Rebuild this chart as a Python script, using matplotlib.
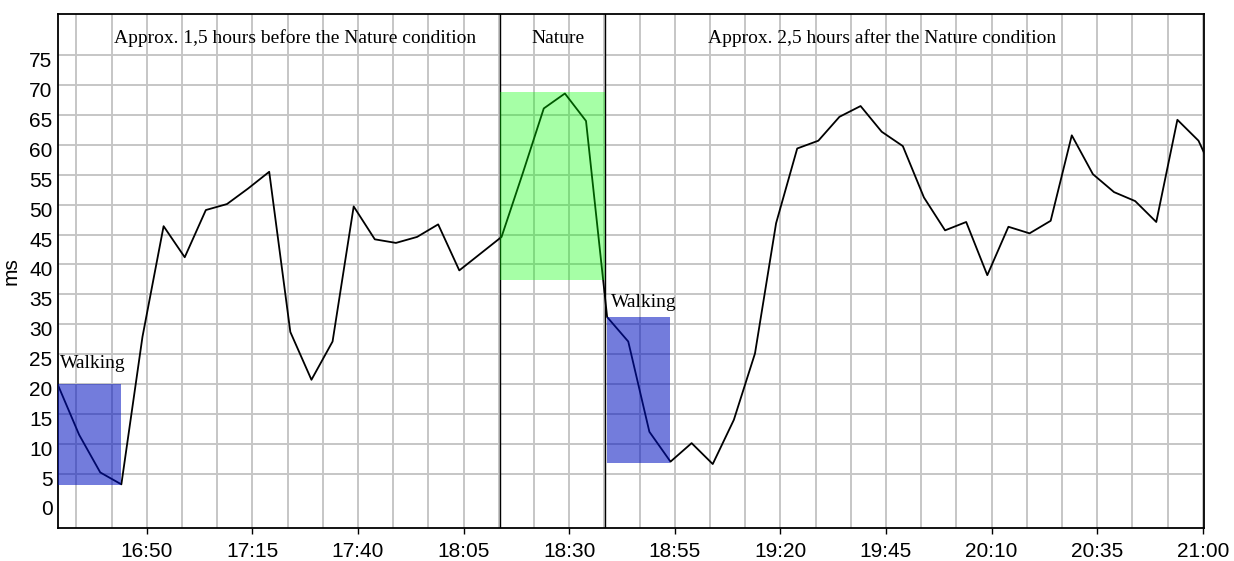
import numpy as np
import matplotlib
matplotlib.use("Agg")
import matplotlib.pyplot as plt
from matplotlib.ticker import FixedLocator, FuncFormatter, NullFormatter
from matplotlib.transforms import ScaledTranslation

#---------------------------------------------
# Data
#---------------------------------------------

times = ["16:29", "16:34", "16:39", "16:44", "16:49", "16:54", "16:59", "17:04",
         "17:09", "17:14", "17:19", "17:24", "17:29", "17:34", "17:39", "17:44",
         "17:49", "17:54", "17:59", "18:04", "18:09", "18:14", "18:19", "18:24",
         "18:29", "18:34", "18:39", "18:44", "18:49", "18:54", "18:59", "19:04",
         "19:09", "19:14", "19:19", "19:24", "19:29", "19:34", "19:39", "19:44",
         "19:49", "19:54", "19:59", "20:04", "20:09", "20:14", "20:19", "20:24",
         "20:29", "20:34", "20:39", "20:44", "20:49", "20:54", "20:59", "21:04"]

values = [19.8, 11.5, 5.2, 3.2, 27.9, 46.4, 41.2, 49.1, 50.1, 52.7, 55.5, 28.7,
          20.7, 27.1, 49.7, 44.2, 43.6, 44.6, 46.7, 39.0, 41.8, 44.6, 55.2, 66.1,
          68.6, 64.0, 31.2, 27.1, 12.0, 7.0, 10.1, 6.6, 14.0, 25.1, 46.9, 59.4,
          60.7, 64.7, 66.5, 62.2, 59.8, 51.2, 45.7, 47.1, 38.2, 46.3, 45.2, 47.3,
          61.6, 55.1, 52.1, 50.6, 47.1, 64.2, 60.7, 53.0]

tick_labels = ["16:50", "17:15", "17:40", "18:05", "18:30", "18:55",
               "19:20", "19:45", "20:10", "20:35", "21:00"]
y_ticks = [0, 5, 10, 15, 20, 25, 30, 35, 40, 45, 50, 55, 60, 65, 70, 75]

# phases (start, end) in clock time
nature_bounds = ("18:13.6", "18:38.4")
nature_box = (37.4, 68.9)
walking_spans = [("16:29", "16:44"), ("18:39", "18:54")]
walking_boxes = [(3.1, 20.0), (6.7, 31.2)]

headings = [("Approx. 1,5 hours before the Nature condition", "17:25.2"),
            ("Nature", "18:27.3"),
            ("Approx. 2,5 hours after the Nature condition", "19:44.1")]


def to_min(s: str) -> float:
    """Clock string 'HH:MM' to minutes since midnight."""
    h, m = s.split(":")
    return int(h) * 60 + float(m)


x = np.array([to_min(t) for t in times])
y = np.array(values)

#---------------------------------------------
# Plot
#---------------------------------------------

plt.rcParams['font.family'] = ['Liberation Sans', 'DejaVu Sans']

fig = plt.figure(figsize=(12.34, 5.61), dpi=100)
ax = fig.add_axes([58 / 1234, 1 - 528 / 561, (1204 - 58) / 1234, (528 - 14) / 561])

ax.set_xlim(to_min("16:29"), to_min("21:00.3"))
ax.set_ylim(-4.1, 81.9)

# grid
major = [to_min(t) for t in tick_labels]
minor = np.arange(major[0] - 25, major[-1] + 1, 25 / 3)
ax.xaxis.set_major_locator(FixedLocator(major))
ax.xaxis.set_minor_locator(FixedLocator(minor))
ax.xaxis.set_major_formatter(FuncFormatter(lambda v, p: f"{int(v // 60)}:{int(round(v % 60)):02d}"))
ax.xaxis.set_minor_formatter(NullFormatter())
ax.set_yticks(y_ticks)

ax.grid(True, which='both', axis='x', color='#c6c6c6', lw=1.4, zorder=0)
ax.grid(True, which='major', axis='y', color='#c6c6c6', lw=1.4, zorder=0)
ax.yaxis.get_gridlines()[0].set_visible(False)
ax.set_axisbelow(True)

ax.tick_params(axis='x', which='major', length=4, width=1, direction='out', labelsize=15, pad=6)
ax.tick_params(axis='x', which='minor', length=0)
ax.tick_params(axis='y', length=0, labelsize=15, pad=4)
for lab in ax.get_yticklabels():
    lab.set_transform(lab.get_transform() + ScaledTranslation(0, -0.045, fig.dpi_scale_trans))

for sp in ax.spines.values():
    sp.set_linewidth(1.3)
    sp.set_color('black')

ax.set_ylabel("ms", fontsize=15, labelpad=6)

# data line
ax.plot(x, y, color='black', lw=1.3, zorder=2)

# phase boxes
n0, n1 = to_min(nature_bounds[0]), to_min(nature_bounds[1])
ax.axvline(n0, color='black', lw=1.0, zorder=3)
ax.axvline(n1, color='black', lw=1.0, zorder=3)
ax.fill_between([n0, n1], nature_box[0], nature_box[1], color='#00ff00', alpha=0.35, lw=0, zorder=4)

for (s, e), (lo, hi) in zip(walking_spans, walking_boxes):
    ax.fill_between([to_min(s), to_min(e)], lo, hi, color='#0010c0', alpha=0.55, lw=0, zorder=4)

# texts
serif = ['Liberation Serif', 'DejaVu Serif']
for txt, xc in headings:
    ax.text(to_min(xc), 0.953, txt, transform=ax.get_xaxis_transform(),
            ha='center', va='center', fontsize=14, family=serif, zorder=5)

ax.text(to_min("16:29.5"), 23.5, "Walking", ha='left', va='center', fontsize=14, family=serif, zorder=5)
ax.text(to_min("18:40"), 33.7, "Walking", ha='left', va='center', fontsize=14, family=serif, zorder=5)

fig.savefig("out.png", dpi=100)
